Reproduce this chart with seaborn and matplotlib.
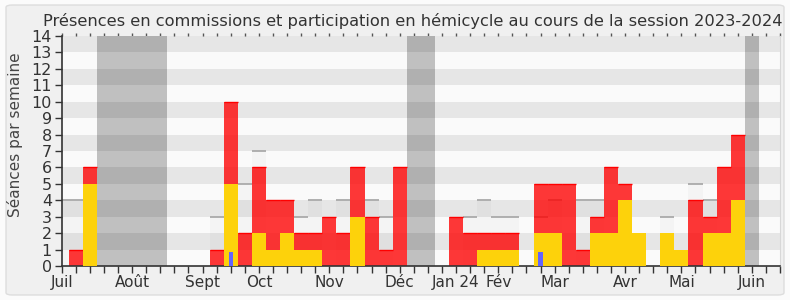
import matplotlib
matplotlib.use("Agg")
import matplotlib.pyplot as plt
import seaborn as sns
import numpy as np
import pandas as pd
from matplotlib.patches import FancyBboxPatch

# ---- data (one entry per week of the session, week 0 = first week of July 2023) ----
weeks = list(range(51))
presence = [0, 1, 6, 0, 0, 0, 0, 0, 0, 0,
            0, 1, 10, 2, 6, 4, 4, 2, 2, 3,
            2, 6, 3, 1, 6, 0, 0, 0, 3, 2,
            2, 2, 2, 0, 5, 5, 5, 1, 3, 6,
            5, 0, 0, 0, 0, 4, 3, 6, 8, 0, 0]
hemicycle = [0, 0, 5, 0, 0, 0, 0, 0, 0, 0,
             0, 0, 5, 0, 2, 1, 2, 1, 1, 0,
             0, 3, 0, 0, 0, 0, 0, 0, 0, 0,
             1, 1, 1, 0, 2, 2, 0, 0, 2, 2,
             4, 2, 0, 2, 1, 0, 2, 2, 4, 0, 0]
questions = [0] * 51
questions[12] = 0.85
questions[34] = 0.85
median = [4, 4, 0, 0, 0, 0, 0, 0, 0, 0,
          0, 3, 0, 5, 7, 0, 0, 3, 4, 0,
          4, 0, 4, 3, 0, 0, 0, 0, 0, 3,
          4, 3, 3, 0, 3, 4, 0, 4, 4, 0,
          0, 0, 0, 3, 0, 5, 4, 0, 0, 0, 0]
vacation_weeks = [3, 4, 5, 6, 7, 25, 26, 49]
month_labels = ["Juil", "Août", "Sept", "Oct", "Nov", "Déc", "Jan 24",
                "Fév", "Mar", "Avr", "Mai", "Juin"]
month_weeks = [0, 5, 10, 14, 19, 24, 28, 31, 35, 40, 44, 49]
title = "Présences en commissions et participation en hémicycle au cours de la session 2023-2024"
ylabel = "Séances par semaine"

df = pd.DataFrame({"week": weeks, "presence": presence, "hemicycle": hemicycle,
                   "questions": questions, "median": median})

sns.set_theme(style="white")
plt.rcParams["font.family"] = ["DejaVu Sans Condensed", "DejaVu Sans"]

fig = plt.figure(figsize=(7.9, 3.0), dpi=100, facecolor="#fbfbfb")
fig.patches.append(FancyBboxPatch((6 / 790, 5 / 300), 778 / 790, 290 / 300,
                                  boxstyle="round,pad=0,rounding_size=0.008",
                                  transform=fig.transFigure, fc="#f0f0f0",
                                  ec="#dddddd", lw=1.0, zorder=-10))
ax = fig.add_axes([61.7 / 790, 1 - 266 / 300, (780 - 61.7) / 790, (266 - 36) / 300])
ax.set_facecolor("#fafafa")

# vacation bands
for w in vacation_weeks:
    ax.axvspan(w - 0.5, w + 0.5, color="#c0c0c0", lw=0, zorder=0.5)
# horizontal stripes
for lo in range(1, 14, 2):
    ax.axhspan(lo, lo + 1, color="black", alpha=0.08, lw=0, zorder=1)

# median bars
sns.barplot(data=df, x="week", y="median", width=1, color="black", alpha=0.025,
            saturation=1, linewidth=0, errorbar=None, ax=ax, zorder=1.5)
mw = df[df["median"] > 0]
ax.hlines(mw["median"], mw["week"] - 0.5, mw["week"] + 0.5, color="#aaaaaa",
          lw=1.3, zorder=1.6)

# presence (red)
sns.barplot(data=df, x="week", y="presence", width=1, color="#ff0000", alpha=0.78,
            saturation=1, linewidth=0, errorbar=None, ax=ax, zorder=2)
pw = df[df["presence"] > 0]
ax.hlines(pw["presence"], pw["week"] - 0.5, pw["week"] + 0.5, color="#ff0000",
          lw=1.0, zorder=2.1)

# hemicycle (yellow)
sns.barplot(data=df, x="week", y="hemicycle", width=1, color="#fdd20b",
            saturation=1, linewidth=0, errorbar=None, ax=ax, zorder=3)

# questions (blue)
sns.barplot(data=df, x="week", y="questions", width=0.3, color="#6464ff",
            saturation=1, linewidth=0, errorbar=None, ax=ax, zorder=4)

ax.set_xlim(0, 51)
ax.set_ylim(0, 14)
ax.set_xlabel("")
ax.set_ylabel("")

labels = [""] * 52
for m, w in zip(month_labels, month_weeks):
    labels[w] = m
ax.set_xticks(range(52))
ax.set_xticklabels(labels)
ax.set_yticks(range(15))
ax.set_yticklabels([str(i) for i in range(15)])
ax.tick_params(axis="x", bottom=True, length=5, width=1, color="#333333",
               labelsize=11, labelcolor="#333333", pad=1.5)
ax.tick_params(axis="y", left=True, length=5, width=1, color="#333333",
               labelsize=11.5, labelcolor="#333333", pad=2)

secax = ax.secondary_xaxis("top")
secax.set_xticks(range(52))
secax.set_xticklabels([""] * 52)
secax.tick_params(length=2, width=1, color="#555555")
secax.spines["top"].set_visible(False)

ax.spines["top"].set_visible(False)
ax.spines["right"].set_color("#d8d8d8")
ax.spines["right"].set_linewidth(0.8)
for s in ["left", "bottom"]:
    ax.spines[s].set_color("#333333")
    ax.spines[s].set_linewidth(1.2)

fig.text(15 / 790, 1 - 135 / 300, ylabel, rotation=90, ha="center", va="center",
         fontsize=11, color="#444444")

t = fig.text(413 / 790, 1 - 26 / 300, title, ha="center", va="baseline",
             fontsize=12, color="#333333")
fig.canvas.draw()
wpx = t.get_window_extent().width
t.set_fontsize(12 * 737 / wpx)

fig.savefig("out.png", dpi=100, facecolor=fig.get_facecolor())
